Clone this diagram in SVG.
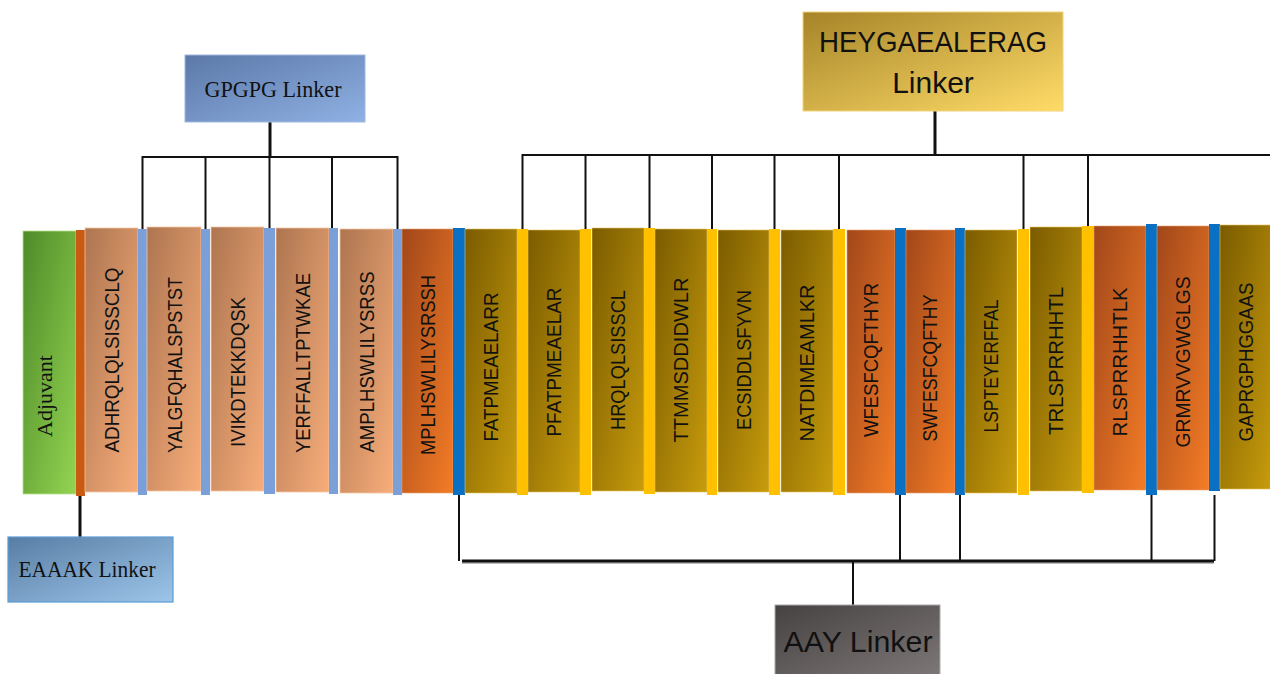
<svg xmlns="http://www.w3.org/2000/svg" width="1270" height="674" viewBox="0 0 1270 674">
<defs>
<linearGradient id="gGreen" x1="0" y1="0" x2="1" y2="1"><stop offset="0" stop-color="#4e8a28"/><stop offset="1" stop-color="#94d452"/></linearGradient>
<linearGradient id="gPeach" x1="0" y1="0" x2="1" y2="1"><stop offset="0" stop-color="#ad7550"/><stop offset="1" stop-color="#f8ad7a"/></linearGradient>
<linearGradient id="gOrange" x1="0" y1="0" x2="1" y2="1"><stop offset="0" stop-color="#a1471a"/><stop offset="1" stop-color="#f47c26"/></linearGradient>
<linearGradient id="gOlive" x1="0" y1="0" x2="1" y2="1"><stop offset="0" stop-color="#7a5b00"/><stop offset="1" stop-color="#c89c0c"/></linearGradient>
<linearGradient id="gGp" x1="0" y1="0" x2="1" y2="1"><stop offset="0" stop-color="#5b78a8"/><stop offset="1" stop-color="#8fb1e3"/></linearGradient>
<linearGradient id="gEa" x1="0" y1="0" x2="1" y2="1"><stop offset="0" stop-color="#587da4"/><stop offset="1" stop-color="#9dc5ea"/></linearGradient>
<linearGradient id="gHe" x1="0" y1="0" x2="1" y2="1"><stop offset="0" stop-color="#a68428"/><stop offset="1" stop-color="#ffdc68"/></linearGradient>
<linearGradient id="gAa" x1="0" y1="0" x2="1" y2="1"><stop offset="0" stop-color="#474242"/><stop offset="1" stop-color="#7d7777"/></linearGradient>
</defs>
<style>
.peach{fill:url(#gPeach);stroke:#f3c6a4;stroke-width:0.8}
.orange{fill:url(#gOrange);stroke:#e8a070;stroke-width:0.6}
.olive{fill:url(#gOlive);stroke:#e6c35a;stroke-width:0.6}
.green{fill:url(#gGreen);stroke:#b6e08e;stroke-width:0.8}
.lk-e{fill:#c85a12}
.lk-g{fill:#7b9fd8}
.lk-a{fill:#0a70c4}
.lk-h{fill:#ffc000}
.seq{font-family:"Liberation Sans",Arial,sans-serif;font-size:20px;fill:#111;text-anchor:middle}
.serif{font-family:"Liberation Serif","Times New Roman",serif;fill:#111;text-anchor:middle}
.sans{font-family:"Liberation Sans",Arial,sans-serif;fill:#111;text-anchor:middle}
.ln{stroke:#111;stroke-width:2;fill:none}
.lnb{stroke:#111;stroke-width:3;fill:none}
</style>

<g id="connectors">
  <path class="lnb" d="M270 122 V158"/>
  <path class="ln" d="M142.5 157 H397.5 M142.5 156 V229 M205.5 156 V229 M269.5 156 V229 M332 156 V229 M397.5 156 V229"/>
  <path class="lnb" d="M935 111 V156"/>
  <path class="ln" d="M522.5 155 H1270 M522.5 154 V229 M585.5 154 V229 M649.5 154 V229 M712 154 V229 M774.5 154 V229 M839 154 V229 M1023.5 154 V229 M1088 154 V229"/>
  <path class="lnb" d="M80 496 V537"/>
  <path class="ln" d="M459 495 V561 M900 495 V561 M960 495 V561 M1151.5 495 V561 M1214.5 495 V561"/>
  <path d="M462 563 H1214" stroke="#bbb" stroke-width="2"/>
  <path class="lnb" d="M462 561 H1214"/>
  <path class="ln" d="M853 561 V605"/>
</g>

<g id="node-adjuvant"><rect class="green" x="23" y="231" width="53" height="263"/><text class="serif" font-size="22" transform="translate(44,396) rotate(-90)" dy="0.35em">Adjuvant</text></g>
<g id="linker-eaaak-bar"><rect class="lk-e" x="76" y="230" width="9" height="266"/></g>

<g id="node-ADHRQLQLSISSCLQ"><rect class="peach" x="85" y="228" width="53" height="264"/><text class="seq" transform="translate(112,360) rotate(-90)" dy="0.35em" textLength="185" lengthAdjust="spacingAndGlyphs">ADHRQLQLSISSCLQ</text></g>
<rect class="lk-g" x="138" y="229" width="9" height="266"/>
<g id="node-YALGFQHALSPSTST"><rect class="peach" x="147" y="227" width="54" height="264"/><text class="seq" transform="translate(175,365) rotate(-90)" dy="0.35em" textLength="176" lengthAdjust="spacingAndGlyphs">YALGFQHALSPSTST</text></g>
<rect class="lk-g" x="201" y="229" width="9" height="266"/>
<g id="node-IVIKDTEKKDQSK"><rect class="peach" x="211" y="227" width="53" height="264"/><text class="seq" transform="translate(238,372) rotate(-90)" dy="0.35em" textLength="150" lengthAdjust="spacingAndGlyphs">IVIKDTEKKDQSK</text></g>
<rect class="lk-g" x="264" y="228" width="11" height="266"/>
<g id="node-YERFFALLTPTWKAE"><rect class="peach" x="276" y="228" width="53" height="264"/><text class="seq" transform="translate(303,363) rotate(-90)" dy="0.35em" textLength="180" lengthAdjust="spacingAndGlyphs">YERFFALLTPTWKAE</text></g>
<rect class="lk-g" x="329" y="228" width="9" height="266"/>
<g id="node-AMPLHSWLILYSRSS"><rect class="peach" x="340" y="229" width="53" height="264"/><text class="seq" transform="translate(367,362) rotate(-90)" dy="0.35em" textLength="181" lengthAdjust="spacingAndGlyphs">AMPLHSWLILYSRSS</text></g>
<rect class="lk-g" x="393" y="229" width="9" height="266"/>

<g id="node-MPLHSWLILYSRSSH"><rect class="orange" x="402" y="229" width="51" height="264"/><text class="seq" transform="translate(428,365) rotate(-90)" dy="0.35em" textLength="180" lengthAdjust="spacingAndGlyphs">MPLHSWLILYSRSSH</text></g>
<rect class="lk-a" x="453" y="228" width="12" height="267"/>
<g id="node-FATPMEAELARR"><rect class="olive" x="465" y="229" width="52" height="264"/><text class="seq" transform="translate(491,367) rotate(-90)" dy="0.35em" textLength="149" lengthAdjust="spacingAndGlyphs">FATPMEAELARR</text></g>
<rect class="lk-h" x="517" y="229" width="11" height="266"/>
<g id="node-PFATPMEAELAR"><rect class="olive" x="528" y="230" width="52" height="262"/><text class="seq" transform="translate(554,362) rotate(-90)" dy="0.35em" textLength="149" lengthAdjust="spacingAndGlyphs">PFATPMEAELAR</text></g>
<rect class="lk-h" x="580" y="229" width="11" height="266"/>
<g id="node-HRQLQLSISSCL"><rect class="olive" x="592" y="228" width="52" height="263"/><text class="seq" transform="translate(618,360) rotate(-90)" dy="0.35em" textLength="140" lengthAdjust="spacingAndGlyphs">HRQLQLSISSCL</text></g>
<rect class="lk-h" x="644" y="228" width="11" height="266"/>
<g id="node-TTMMSDDIDWLR"><rect class="olive" x="655" y="229" width="52" height="263"/><text class="seq" transform="translate(681,360) rotate(-90)" dy="0.35em" textLength="165" lengthAdjust="spacingAndGlyphs">TTMMSDDIDWLR</text></g>
<rect class="lk-h" x="707" y="229" width="10" height="266"/>
<g id="node-ECSIDDLSFYVN"><rect class="olive" x="718" y="230" width="51" height="262"/><text class="seq" transform="translate(744,360) rotate(-90)" dy="0.35em" textLength="140" lengthAdjust="spacingAndGlyphs">ECSIDDLSFYVN</text></g>
<rect class="lk-h" x="769" y="229" width="11" height="266"/>
<g id="node-NATDIMEAMLKR"><rect class="olive" x="781" y="230" width="52" height="262"/><text class="seq" transform="translate(807,363) rotate(-90)" dy="0.35em" textLength="157" lengthAdjust="spacingAndGlyphs">NATDIMEAMLKR</text></g>
<rect class="lk-h" x="833" y="229" width="12" height="266"/>

<g id="node-WFESFCQFTHYR"><rect class="orange" x="847" y="230" width="48" height="263"/><text class="seq" transform="translate(871,360) rotate(-90)" dy="0.35em" textLength="154" lengthAdjust="spacingAndGlyphs">WFESFCQFTHYR</text></g>
<rect class="lk-a" x="895" y="228" width="11" height="267"/>
<g id="node-SWFESFCQFTHY"><rect class="orange" x="906" y="230" width="49" height="263"/><text class="seq" transform="translate(930,368) rotate(-90)" dy="0.35em" textLength="147" lengthAdjust="spacingAndGlyphs">SWFESFCQFTHY</text></g>
<rect class="lk-a" x="955" y="228" width="10" height="267"/>
<g id="node-LSPTEYERFFAL"><rect class="olive" x="965" y="230" width="52" height="263"/><text class="seq" transform="translate(991,366) rotate(-90)" dy="0.35em" textLength="133" lengthAdjust="spacingAndGlyphs">LSPTEYERFFAL</text></g>
<rect class="lk-h" x="1018" y="229" width="11" height="266"/>
<g id="node-TRLSPRRHHTL"><rect class="olive" x="1030" y="227" width="52" height="264"/><text class="seq" transform="translate(1056,361) rotate(-90)" dy="0.35em" textLength="148" lengthAdjust="spacingAndGlyphs">TRLSPRRHHTL</text></g>
<rect class="lk-h" x="1082" y="226" width="12" height="267"/>
<g id="node-RLSPRRHHTLK"><rect class="orange" x="1094" y="226" width="52" height="264"/><text class="seq" transform="translate(1120,362) rotate(-90)" dy="0.35em" textLength="149" lengthAdjust="spacingAndGlyphs">RLSPRRHHTLK</text></g>
<rect class="lk-a" x="1146" y="224" width="11" height="271"/>
<g id="node-GRMRVVGWGLGS"><rect class="orange" x="1157" y="226" width="52" height="264"/><text class="seq" transform="translate(1183,362) rotate(-90)" dy="0.35em" textLength="171" lengthAdjust="spacingAndGlyphs">GRMRVVGWGLGS</text></g>
<rect class="lk-a" x="1209" y="224" width="11" height="267"/>
<g id="node-GAPRGPHGGAAS"><rect class="olive" x="1220" y="225" width="52" height="264"/><text class="seq" transform="translate(1246,362) rotate(-90)" dy="0.35em" textLength="159" lengthAdjust="spacingAndGlyphs">GAPRGPHGGAAS</text></g>

<g id="node-gpgpg"><rect x="185" y="55" width="180" height="67" fill="url(#gGp)" stroke="#9fb8e0" stroke-width="1"/><text class="serif" x="273" y="97" font-size="24" textLength="137" lengthAdjust="spacingAndGlyphs">GPGPG Linker</text></g>
<g id="node-heygaealerag"><rect x="803" y="12" width="260" height="99" fill="url(#gHe)" stroke="#f2d47a" stroke-width="1"/><text class="sans" x="933" y="52" font-size="30" textLength="228" lengthAdjust="spacingAndGlyphs">HEYGAEALERAG</text><text class="sans" x="933" y="93" font-size="30">Linker</text></g>
<g id="node-eaaak"><rect x="8" y="537" width="165" height="65" fill="url(#gEa)" stroke="#5b9bd5" stroke-width="1.2"/><text class="serif" x="87" y="577" font-size="23" textLength="137" lengthAdjust="spacingAndGlyphs">EAAAK Linker</text></g>
<g id="node-aay"><rect x="775" y="605" width="165" height="72" fill="url(#gAa)" stroke="#aaa" stroke-width="1"/><text class="sans" x="858" y="652" font-size="30" textLength="149" lengthAdjust="spacingAndGlyphs">AAY Linker</text></g>
</svg>
